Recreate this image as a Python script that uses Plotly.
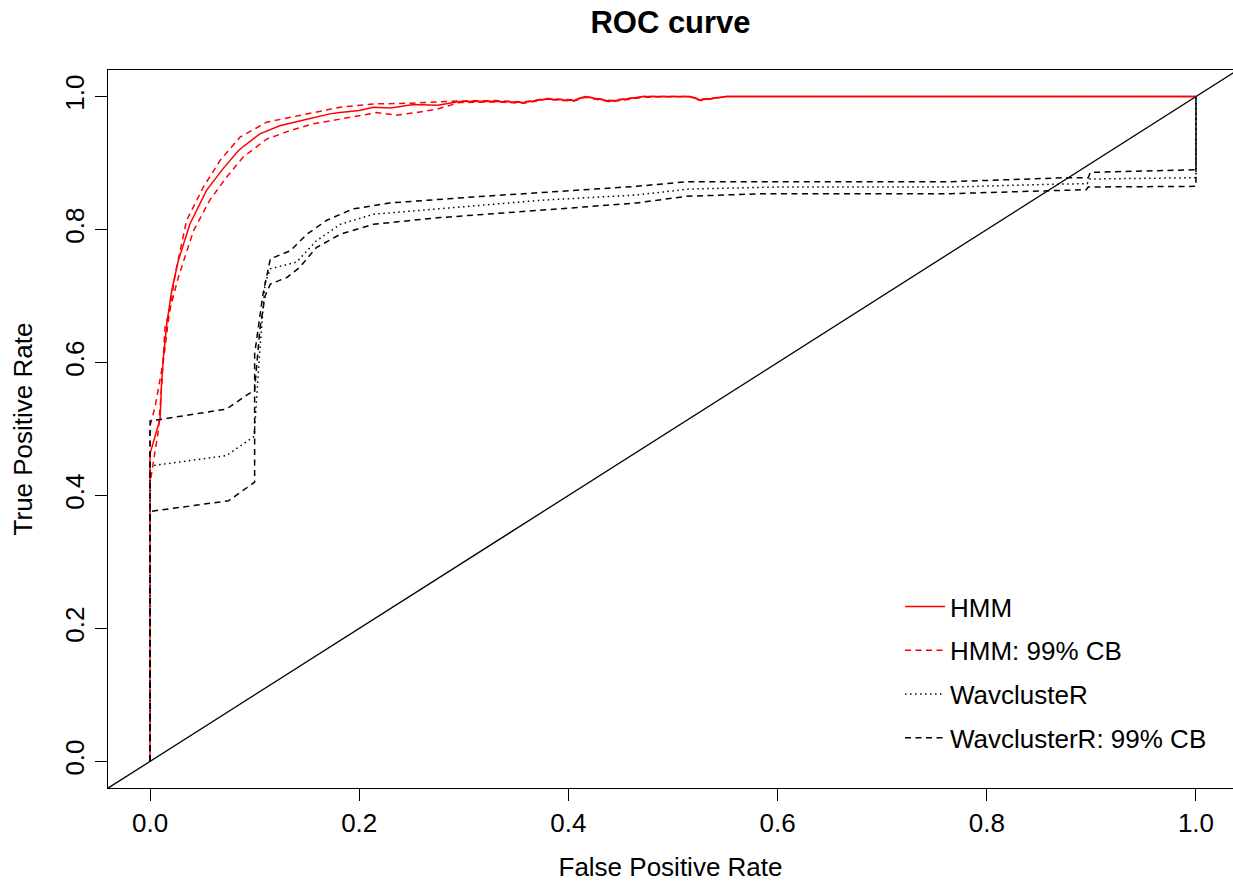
import plotly.graph_objects as go

# ROC curve for the HMM classifier with its 99% confidence band
hmm_fpr = [0, 0, 0.0096, 0.011, 0.0128, 0.016, 0.0207, 0.027, 0.038, 0.054, 0.0685,
           0.0845, 0.105, 0.124, 0.150, 0.172, 0.1816, 0.20, 0.2135, 0.23, 0.252, 0.275,
           0.296, 0.33, 0.357, 0.379, 0.405, 0.416, 0.44, 0.4716, 0.516, 0.526, 0.551,
           0.57, 1.0]
hmm_tpr = [0, 0.463, 0.515, 0.568, 0.608, 0.658, 0.708, 0.753, 0.808, 0.859, 0.889,
           0.919, 0.944, 0.956, 0.966, 0.974, 0.976, 0.979, 0.984, 0.983, 0.988, 0.987,
           0.9925, 0.993, 0.991, 0.9965, 0.994, 1.0, 0.993, 1.0, 1.0, 0.995, 1.0,
           1.0, 1.0]

hmm_up_fpr = [0, 0, 0.0048, 0.0128, 0.0175, 0.024, 0.035, 0.051, 0.067, 0.086, 0.1115,
              0.140, 0.1816, 0.2135, 0.25, 0.296, 0.33, 0.357, 0.379, 0.405, 0.416,
              0.44, 0.4716, 0.516, 0.526, 0.551, 0.57, 1.0]
hmm_up_tpr = [0, 0.505, 0.533, 0.603, 0.663, 0.733, 0.814, 0.864, 0.904, 0.939, 0.9615,
              0.971, 0.984, 0.989, 0.990, 0.9935, 0.994, 0.992, 0.997, 0.995, 1.0,
              0.994, 1.0, 1.0, 0.996, 1.0, 1.0, 1.0]

hmm_lo_fpr = [0, 0, 0.003, 0.008, 0.011, 0.0143, 0.0207, 0.027, 0.0415, 0.057, 0.0733,
              0.089, 0.1115, 0.134, 0.156, 0.1816, 0.217, 0.235, 0.255, 0.274, 0.296,
              0.33, 0.357, 0.379, 0.405, 0.416, 0.44, 0.4716, 0.516, 0.526, 0.551,
              0.57, 1.0]
hmm_lo_tpr = [0, 0.418, 0.448, 0.498, 0.563, 0.653, 0.690, 0.728, 0.798, 0.844, 0.879,
              0.909, 0.936, 0.949, 0.959, 0.966, 0.976, 0.972, 0.976, 0.981, 0.991,
              0.992, 0.990, 0.996, 0.993, 0.999, 0.992, 0.999, 1.0, 0.994, 1.0,
              1.0, 1.0]

# ROC curve for WavclusteR with its 99% confidence band
wav_fpr = [0, 0, 0.003, 0.073, 0.0988, 0.1, 0.105, 0.11, 0.115, 0.140, 0.159, 0.182,
           0.2135, 0.277, 0.373, 0.465, 0.516, 0.6, 0.765, 0.86, 0.896, 0.898, 1.0, 1.0]
wav_tpr = [0, 0.445, 0.445, 0.460, 0.488, 0.50, 0.62, 0.72, 0.741, 0.751, 0.783, 0.808,
           0.823, 0.831, 0.844, 0.852, 0.861, 0.864, 0.864, 0.868, 0.869, 0.876, 0.878, 1.0]

wav_up_fpr = [0, 0, 0.073, 0.1, 0.1, 0.108, 0.115, 0.134, 0.150, 0.169, 0.194, 0.229,
              0.309, 0.405, 0.465, 0.513, 0.765, 0.876, 0.897, 0.899, 1.0, 1.0]
wav_up_tpr = [0, 0.512, 0.530, 0.559, 0.613, 0.703, 0.756, 0.768, 0.793, 0.814, 0.831,
              0.840, 0.849, 0.859, 0.865, 0.872, 0.872, 0.878, 0.878, 0.886, 0.890, 1.0]

wav_lo_fpr = [0, 0, 0.075, 0.1, 0.1, 0.105, 0.11, 0.115, 0.131, 0.143, 0.159, 0.182,
              0.2135, 0.277, 0.373, 0.465, 0.513, 0.586, 0.765, 0.895, 0.897, 1.0, 1.0]
wav_lo_tpr = [0, 0.376, 0.392, 0.420, 0.56, 0.65, 0.70, 0.718, 0.728, 0.743, 0.773,
              0.793, 0.808, 0.818, 0.829, 0.840, 0.850, 0.854, 0.854, 0.860, 0.864,
              0.865, 1.0]

# chance diagonal
diag = [-0.1, 1.1]

FONT = "Liberation Sans, Arial, Helvetica, sans-serif"
DASH = "6px,4.5px"
DOT = "1.5px,3.5px"

fig = go.Figure()
fig.add_trace(go.Scatter(x=diag, y=diag, mode="lines", showlegend=False,
                         line=dict(color="black", width=1.3), hoverinfo="skip"))

series = [
    ("HMM", hmm_fpr, hmm_tpr, "red", "solid", True),
    ("HMM: 99% CB", hmm_up_fpr, hmm_up_tpr, "red", DASH, True),
    ("HMM: 99% CB", hmm_lo_fpr, hmm_lo_tpr, "red", DASH, False),
    ("WavclusteR", wav_fpr, wav_tpr, "black", DOT, True),
    ("WavclusterR: 99% CB", wav_up_fpr, wav_up_tpr, "black", DASH, True),
    ("WavclusterR: 99% CB", wav_lo_fpr, wav_lo_tpr, "black", DASH, False),
]
for name, xs, ys, col, dash, show in series:
    fig.add_trace(go.Scatter(
        x=xs, y=ys, mode="lines", name=name, legendgroup=name, showlegend=show,
        line=dict(color=col, width=1.5, dash=dash),
    ))

W, H = 1233, 882
L, R, T, B = 108, 0, 70, 94

axis_common = dict(
    showgrid=False, zeroline=False, showline=True, linecolor="black", linewidth=1.3,
    ticks="outside", ticklen=12, tickwidth=1.3, tickcolor="black",
    tickfont=dict(family=FONT, size=26, color="black"),
    tickvals=[0, 0.2, 0.4, 0.6, 0.8, 1.0],
    ticktext=["0.0", "0.2", "0.4", "0.6", "0.8", "1.0"],
)

fig.update_layout(
    width=W, height=H,
    margin=dict(l=L, r=R, t=T, b=B),
    paper_bgcolor="white", plot_bgcolor="white",
    font=dict(family=FONT, size=26, color="black"),
    title=dict(text="<b>ROC curve</b>", font=dict(family=FONT, size=31, color="black"),
               x=0.5, xref="paper", xanchor="center",
               y=1 - 22 / H, yref="container", yanchor="middle"),
    xaxis=dict(range=[-0.0402, 1.0354], mirror=True, **axis_common,
               title=dict(text="False Positive Rate", standoff=20,
                          font=dict(family=FONT, size=26, color="black"))),
    yaxis=dict(range=[-0.04, 1.04], tickangle=-90, **axis_common,
               title=dict(text="True Positive Rate", standoff=20,
                          font=dict(family=FONT, size=26, color="black"))),
    legend=dict(x=(900 - L) / (W - L - R), y=(882 - 583 - B) / (H - T - B),
                xanchor="left", yanchor="top", bgcolor="rgba(0,0,0,0)",
                borderwidth=0, itemwidth=40, tracegroupgap=7,
                font=dict(family=FONT, size=26, color="black")),
)

fig.write_html("out.html")
